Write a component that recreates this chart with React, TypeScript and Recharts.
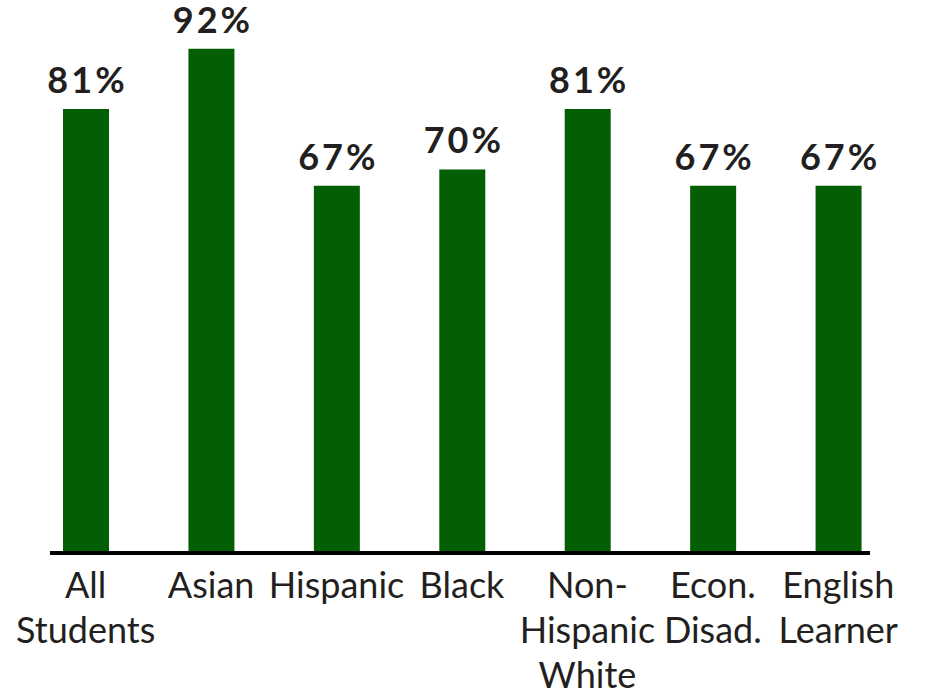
import React from 'react';
import { BarChart, Bar, XAxis, YAxis, LabelList, ReferenceLine } from 'recharts';

const categories = ['All Students', 'Asian', 'Hispanic', 'Black', 'Non-Hispanic White', 'Econ. Disad.', 'English Learner'];
const tickLines = [['All', 'Students'], ['Asian'], ['Hispanic'], ['Black'], ['Non-', 'Hispanic', 'White'], ['Econ.', 'Disad.'], ['English', 'Learner']];
const values = [81, 92, 67, 70, 81, 67, 67];

const data = categories.map((c, i) => ({ name: c, value: values[i] }));

const FONT = 'Lato, "Open Sans", sans-serif';
const TEXT = '#231f20';
const GREEN = '#045f04';

const Tick = (props: any) => {
  const { x, y, payload } = props;
  const lines = tickLines[categories.indexOf(payload.value)] || [payload.value];
  return (
    <text x={x} y={y} textAnchor="middle" fontFamily={FONT} fontSize={36} fill={TEXT}>
      {lines.map((l: string, i: number) => (
        <tspan key={i} x={x} y={y + 37 + i * 45}>{l}</tspan>
      ))}
    </text>
  );
};

const ValueLabel = (props: any) => {
  const { x, y, width, value } = props;
  return (
    <text x={x + width / 2 + 1.5} y={y - 16} textAnchor="middle" fontFamily={FONT} fontWeight={700} fontSize={36} letterSpacing={3} fill={TEXT}>
      {value}%
    </text>
  );
};

const BaseLine = (props: any) => {
  const { x1, x2, y1 } = props;
  return <line x1={x1 + 27} x2={x2 - 31} y1={y1} y2={y1} stroke="#000" strokeWidth={4} />;
};

export default function App() {
  return (
    <div style={{ position: 'absolute', left: 0, top: 0, width: 926, height: 694, background: '#fff' }}>
      <BarChart width={926} height={694} data={data} margin={{ top: 5, right: 25, bottom: 0, left: 23 }} barCategoryGap={0}>
        <XAxis dataKey="name" axisLine={false} tickLine={false} height={141} tick={<Tick />} interval={0} />
        <YAxis hide domain={[0, 100]} />
        <Bar dataKey="value" fill={GREEN} barSize={46} isAnimationActive={false}>
          <LabelList dataKey="value" content={<ValueLabel />} />
        </Bar>
        <ReferenceLine y={0} shape={<BaseLine />} />
      </BarChart>
    </div>
  );
}
